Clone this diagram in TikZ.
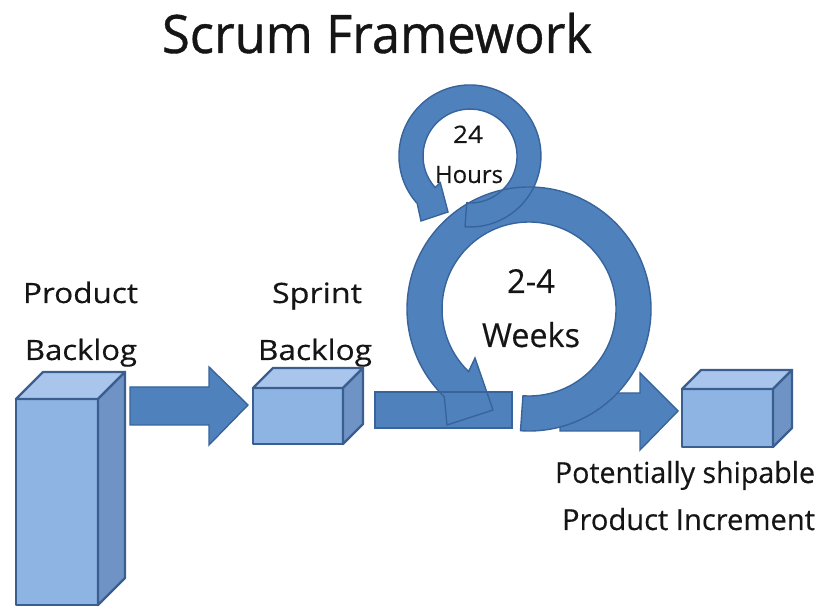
\documentclass[tikz,border=0pt]{standalone}
\usepackage{fontspec}
\setmainfont{Open Sans}
\newfontfamily\heavyfont{Open Sans}[FakeBold=0.7]
\newfontfamily\medfont{Open Sans}[FakeBold=0.35]
\usepackage{graphicx}
\newcommand{\fitw}[2]{\resizebox{#1}{\height}{#2}}
\definecolor{arrfill}{HTML}{4F81BD}
\definecolor{arrline}{HTML}{38649C}
\definecolor{boxfront}{HTML}{8EB4E3}
\definecolor{boxtop}{HTML}{A9C5EB}
\definecolor{boxside}{HTML}{7093C6}
\definecolor{boxline}{HTML}{3B5E91}
\definecolor{txt}{HTML}{151515}
\newcommand{\cubebox}[5]{%
  \filldraw[boxface, fill=boxfront] (#1,#2) rectangle (#3,#4);
  \filldraw[boxface, fill=boxtop] (#1,#4) -- (#1+#5,#4+#5) -- (#3+#5,#4+#5) -- (#3,#4) -- cycle;
  \filldraw[boxface, fill=boxside] (#3,#2) -- (#3,#4) -- (#3+#5,#4+#5) -- (#3+#5,#2+#5) -- cycle;}
\newcommand{\bigringpath}{(520.5,176.3) arc[start angle=-94,end angle=226,radius=122] -- (447,182) -- (493,197) -- (475,249) -- (468.6,235.4) arc[start angle=226,end angle=-94,radius=87] -- cycle}
\newcommand{\smallringpath}{(465,380.2) arc[start angle=-94,end angle=222,radius=71] -- (421,386) -- (448,395) -- (440.3,424.2) -- (435.1,419.5) arc[start angle=222,end angle=-94,radius=47] -- cycle}
\newcommand{\barpath}{(375,179) rectangle (512,215)}
\begin{document}
\begin{tikzpicture}[x=1pt,y=1pt,
  boxface/.style={draw=boxline, line width=2.4pt, line join=round},
  arrowshape/.style={fill=arrfill, draw=arrline, line width=1.4pt, line join=miter},
  lbl/.style={anchor=base west, inner sep=0pt, outer sep=0pt, text=txt}]
\useasboundingbox (0,0) rectangle (825,607);
\fill[white] (0,0) rectangle (825,607);

% title
\node[lbl, font=\heavyfont\fontsize{53}{60}\selectfont] (title) at (162,554) {\fitw{430pt}{Scrum Framework}};

% labels
\node[lbl, font=\medfont\fontsize{28}{32}\selectfont] (pb1) at (23,304) {\fitw{115pt}{Product}};
\node[lbl, font=\medfont\fontsize{28}{32}\selectfont] (pb2) at (25,247) {\fitw{112pt}{Backlog}};
\node[lbl, font=\medfont\fontsize{28}{32}\selectfont] (sb1) at (272,304) {\fitw{90pt}{Sprint}};
\node[lbl, font=\medfont\fontsize{28}{32}\selectfont] (sb2) at (258,247) {\fitw{114pt}{Backlog}};
\node[lbl, font=\medfont\fontsize{29}{33}\selectfont] (pi1) at (555,124) {\fitw{260pt}{Potentially shipable}};
\node[lbl, font=\medfont\fontsize{29}{33}\selectfont] (pi2) at (562,77) {\fitw{253pt}{Product Increment}};

% boxes
\cubebox{16}{2}{98}{208}{27}
\cubebox{253}{163}{343}{219}{20}
\cubebox{682}{160}{773}{218}{19}
\coordinate (pbox) at (57,105);
\coordinate (sbox) at (298,191);
\coordinate (ibox) at (727,189);

% arrow 1
\draw[arrowshape] (130,182) -- (209,182) -- (209,162) -- (248,202) -- (209,240) -- (209,220) -- (130,220) -- cycle;
% arrow 3
\draw[arrowshape] (560,176) -- (640,176) -- (640,157) -- (678,196) -- (640,234) -- (640,214) -- (560,214) -- cycle;

% sprint bar and circular arrows
\fill[arrfill] \barpath;
\fill[arrfill] \bigringpath;
\fill[arrfill] \smallringpath;
\draw[arrline, line width=1.4pt, line join=miter] \barpath;
\draw[arrline, line width=1.4pt, line join=miter] \bigringpath;
\draw[arrline, line width=1.4pt, line join=miter] \smallringpath;

% ring texts
\node[lbl, font=\medfont\fontsize{24}{28}\selectfont] (h1) at (453,464) {\fitw{30pt}{24}};
\node[lbl, font=\medfont\fontsize{24}{28}\selectfont] (h2) at (435,424) {\fitw{68pt}{Hours}};
\node[lbl, font=\medfont\fontsize{33}{38}\selectfont] (w1) at (507,314) {\fitw{48pt}{2-4}};
\node[lbl, font=\medfont\fontsize{33}{38}\selectfont] (w2) at (482,260) {\fitw{98pt}{Weeks}};
\end{tikzpicture}
\end{document}
